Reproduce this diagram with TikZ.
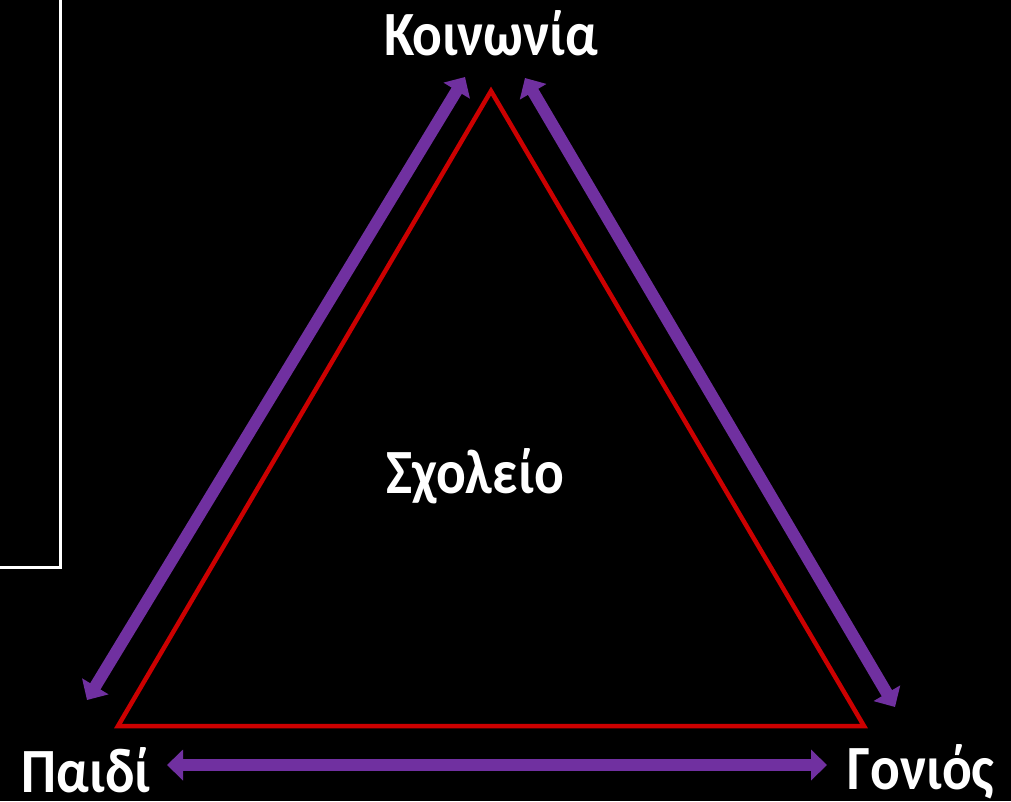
\documentclass[tikz,border=0pt]{standalone}
\usepackage{fontspec}
\setmainfont{Carlito}[FakeStretch=0.88]
\usetikzlibrary{arrows.meta}
\definecolor{offpurple}{RGB}{112,48,160}
\definecolor{trired}{RGB}{204,0,0}
\tikzset{
  lbl/.style={text=white, font=\fontsize{63}{63}\selectfont\bfseries, anchor=base, inner sep=0pt},
  dblarrow/.style={draw=offpurple, line width=12pt, {Triangle[length=16pt,width=30pt]}-{Triangle[length=16pt,width=30pt]}},
  tri/.style={draw=trired, line width=4.5pt, line join=miter}
}
\begin{document}
\begin{tikzpicture}[x=1pt,y=-1pt]
\fill[black] (0,0) rectangle (1011,801);
\useasboundingbox (0,0) rectangle (1011,801);
% white frame (partially visible)
\coordinate (fr1) at (60.5,0);
\coordinate (fr2) at (60.5,567.5);
\coordinate (fr3) at (0,567.5);
\draw[white, line width=3pt] (fr1) -- (fr2) -- (fr3);
% triangle
\coordinate (A) at (491,91);
\coordinate (B) at (118,726);
\coordinate (C) at (864,726);
\draw[tri] (A) -- (B) -- (C) -- cycle;
% labels
\node[lbl] (koin) at (491,55) {Κοινωνία};
\node[lbl] (sxol) at (475,493) {Σχολείο};
\node[lbl] (paidi) at (86,792) {Παιδί};
\node[lbl] (gon) at (921,789) {Γονιός};
% arrow end points
\coordinate (l1) at (87,700);
\coordinate (l2) at (465,77);
\coordinate (r1) at (525,78);
\coordinate (r2) at (895,707);
\coordinate (b1) at (167,765);
\coordinate (b2) at (827,765);
\draw[dblarrow] (l1) -- (l2);
\draw[dblarrow] (r1) -- (r2);
\draw[dblarrow] (b1) -- (b2);
\end{tikzpicture}
\end{document}
